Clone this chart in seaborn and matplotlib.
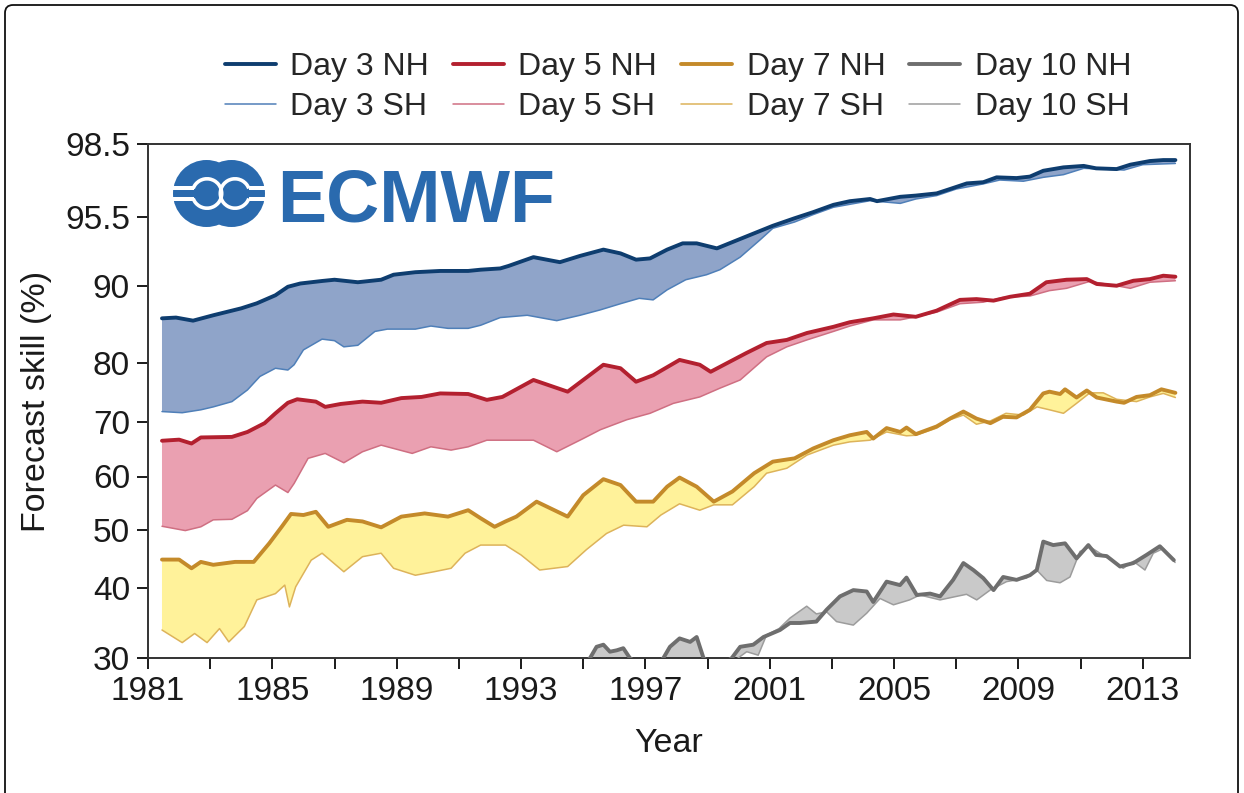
import numpy as np
import pandas as pd
import matplotlib
matplotlib.use("Agg")
import matplotlib.pyplot as plt
import seaborn as sns
from matplotlib.patches import Circle, Wedge, Rectangle, FancyBboxPatch
from matplotlib.transforms import IdentityTransform

# ---------------- data ----------------
d3nh_year = [1981.45, 1981.9, 1982.45, 1983.1, 1984.0, 1984.5, 1985.1, 1985.5, 1985.9, 1986.6, 1987.0,
             1987.75, 1988.5, 1988.9, 1989.6, 1990.4, 1991.3, 1991.7, 1992.33, 1992.6, 1993.4, 1994.25,
             1994.9, 1995.65, 1996.2, 1996.7, 1997.15, 1997.7, 1998.2, 1998.65, 1999.3, 1999.8, 2000.5,
             2001.1, 2001.8, 2002.4, 2003.05, 2003.58, 2004.23, 2004.45, 2005.2, 2005.7, 2006.37, 2006.8,
             2007.34, 2007.87, 2008.3, 2008.94, 2009.37, 2009.8, 2010.45, 2011.1, 2011.5, 2012.16, 2012.6,
             2013.23, 2013.66, 2014.05]
d3nh_val = [85.8, 85.9, 85.5, 86.2, 87.1, 87.75, 88.8, 89.9, 90.2, 90.4, 90.5,
            90.3, 90.5, 90.9, 91.1, 91.2, 91.2, 91.3, 91.4, 91.6, 92.3, 91.9,
            92.4, 92.9, 92.6, 92.1, 92.2, 92.9, 93.4, 93.4, 93.0, 93.5, 94.2,
            94.8, 95.4, 95.7, 96.0, 96.15, 96.24, 96.15, 96.33, 96.38, 96.47, 96.65,
            96.88, 96.93, 97.13, 97.1, 97.16, 97.4, 97.54, 97.6, 97.5, 97.47, 97.65,
            97.8, 97.84, 97.84]

d3sh_year = [1981.45, 1982.1, 1982.7, 1983.1, 1983.7, 1984.2, 1984.6, 1985.1, 1985.5, 1985.7, 1986.0,
             1986.6, 1987.0, 1987.3, 1987.75, 1988.3, 1988.7, 1989.6, 1990.1, 1990.65, 1991.3, 1991.7,
             1992.33, 1993.2, 1994.15, 1994.9, 1995.55, 1996.2, 1996.8, 1997.25, 1997.7, 1998.3, 1998.97,
             1999.4, 2000.05, 2000.7, 2001.1, 2001.8, 2002.4, 2003.05, 2003.7, 2004.23, 2005.2, 2005.7,
             2006.37, 2007.0, 2007.87, 2008.4, 2009.16, 2009.8, 2010.45, 2011.1, 2011.73, 2012.4, 2013.0,
             2014.05]
d3sh_val = [71.7, 71.5, 72.0, 72.5, 73.4, 75.4, 77.7, 79.1, 78.8, 79.7, 81.7,
            83.1, 82.9, 82.1, 82.3, 84.1, 84.4, 84.4, 84.8, 84.5, 84.5, 84.9,
            85.9, 86.2, 85.5, 86.2, 86.9, 87.7, 88.4, 88.2, 89.5, 90.5, 90.9,
            91.3, 92.3, 93.7, 94.6, 95.1, 95.6, 95.9, 96.05, 96.17, 96.06, 96.24,
            96.38, 96.65, 96.86, 97.02, 96.97, 97.13, 97.24, 97.5, 97.47, 97.43, 97.65,
            97.7]

d5nh_year = [1981.45, 1982.0, 1982.4, 1982.7, 1983.7, 1984.2, 1984.75, 1985.1, 1985.5, 1985.8, 1986.4,
             1986.7, 1987.2, 1987.9, 1988.5, 1989.15, 1989.8, 1990.4, 1991.3, 1991.9, 1992.4, 1993.4,
             1994.5, 1995.0, 1995.65, 1996.2, 1996.7, 1997.25, 1998.1, 1998.75, 1999.1, 1999.6, 2000.25,
             2000.9, 2001.55, 2002.2, 2003.05, 2003.58, 2004.33, 2004.98, 2005.7, 2006.37, 2007.12, 2007.65,
             2008.2, 2008.73, 2009.37, 2009.9, 2010.55, 2011.2, 2011.52, 2012.16, 2012.7, 2013.23, 2013.66,
             2014.05]
d5nh_val = [66.5, 66.7, 66.0, 67.1, 67.2, 68.1, 69.7, 71.4, 73.2, 73.8, 73.4,
            72.5, 73.0, 73.4, 73.2, 74.0, 74.2, 74.8, 74.7, 73.7, 74.2, 77.1,
            75.1, 77.1, 79.7, 79.1, 76.8, 77.9, 80.4, 79.7, 78.5, 79.9, 81.3,
            82.6, 83.0, 83.9, 84.7, 85.3, 85.8, 86.3, 86.0, 86.8, 88.2, 88.3,
            88.1, 88.6, 89.0, 90.3, 90.5, 90.55, 90.16, 90.02, 90.42, 90.55, 90.82,
            90.74]

d5sh_year = [1981.45, 1982.2, 1982.7, 1983.1, 1983.7, 1984.2, 1984.5, 1985.1, 1985.5, 1985.7, 1986.15,
             1986.7, 1987.3, 1987.9, 1988.5, 1989.5, 1990.1, 1990.75, 1991.3, 1991.9, 1992.5, 1993.4,
             1994.15, 1995.0, 1995.55, 1996.4, 1997.15, 1997.9, 1998.75, 1999.4, 2000.05, 2000.9, 2001.55,
             2002.2, 2003.05, 2003.58, 2004.33, 2005.2, 2005.7, 2006.37, 2007.12, 2007.87, 2008.5, 2009.37,
             2010.0, 2010.55, 2011.3, 2012.16, 2012.6, 2013.23, 2014.05]
d5sh_val = [50.7, 49.9, 50.6, 51.9, 52.0, 53.6, 55.9, 58.4, 57.0, 58.7, 63.3,
            64.2, 62.5, 64.5, 65.7, 64.2, 65.4, 64.8, 65.4, 66.6, 66.6, 66.6,
            64.5, 66.9, 68.5, 70.3, 71.4, 73.1, 74.2, 75.7, 77.1, 80.8, 82.1,
            83.0, 84.1, 84.8, 85.6, 85.6, 86.0, 86.6, 87.7, 87.9, 88.5, 88.7,
            89.4, 89.7, 90.37, 90.02, 89.7, 90.3, 90.42]

d7nh_year = [1981.45, 1982.0, 1982.4, 1982.7, 1983.1, 1983.8, 1984.4, 1984.9, 1985.3, 1985.6, 1986.0,
             1986.4, 1986.8, 1987.4, 1987.9, 1988.5, 1989.15, 1989.9, 1990.65, 1991.3, 1991.7, 1992.15,
             1992.5, 1992.85, 1993.5, 1994.5, 1995.0, 1995.65, 1996.2, 1996.7, 1997.25, 1997.7, 1998.1,
             1998.65, 1999.2, 1999.8, 2000.5, 2001.1, 2001.8, 2002.4, 2003.05, 2003.58, 2004.12, 2004.33,
             2004.76, 2005.2, 2005.4, 2005.7, 2006.37, 2006.8, 2007.23, 2007.65, 2008.1, 2008.5, 2008.94,
             2009.37, 2009.8, 2010.0, 2010.34, 2010.5, 2010.87, 2011.2, 2011.52, 2012.16, 2012.4, 2012.8,
             2013.23, 2013.6, 2014.05]
d7nh_val = [44.9, 44.9, 43.4, 44.5, 44.0, 44.5, 44.5, 47.7, 50.6, 53.0, 52.8,
            53.4, 50.6, 51.9, 51.6, 50.5, 52.5, 53.1, 52.5, 53.7, 52.2, 50.6,
            51.6, 52.5, 55.3, 52.5, 56.5, 59.5, 58.4, 55.3, 55.3, 58.1, 59.8,
            58.1, 55.3, 57.2, 60.6, 62.7, 63.3, 65.1, 66.6, 67.5, 68.1, 66.9,
            68.8, 68.1, 68.9, 67.7, 69.1, 70.5, 71.7, 70.5, 69.7, 70.8, 70.7,
            72.0, 74.8, 75.1, 74.7, 75.5, 74.1, 75.3, 74.1, 73.4, 73.2, 74.2,
            74.5, 75.5, 74.9]

d7sh_year = [1981.45, 1982.1, 1982.5, 1982.9, 1983.3, 1983.6, 1984.1, 1984.5, 1985.1, 1985.4, 1985.55,
             1985.75, 1986.25, 1986.6, 1987.3, 1987.9, 1988.5, 1988.9, 1989.6, 1990.2, 1990.75, 1991.2,
             1991.7, 1992.5, 1993.0, 1993.6, 1994.5, 1995.1, 1995.75, 1996.3, 1997.05, 1997.5, 1998.1,
             1998.75, 1999.2, 1999.8, 2000.5, 2000.9, 2001.55, 2002.2, 2003.05, 2003.58, 2004.23, 2004.76,
             2005.4, 2005.7, 2006.37, 2006.8, 2007.23, 2007.65, 2008.1, 2008.6, 2009.16, 2009.6, 2010.0,
             2010.45, 2010.87, 2011.3, 2011.73, 2012.16, 2012.8, 2013.23, 2013.66, 2014.05]
d7sh_val = [34.0, 32.2, 33.5, 32.2, 34.2, 32.3, 34.5, 38.3, 39.2, 40.5, 37.3,
            40.2, 44.8, 46.0, 42.8, 45.4, 46.0, 43.4, 42.2, 42.8, 43.4, 46.0,
            47.4, 47.4, 45.7, 43.1, 43.7, 46.6, 49.4, 50.9, 50.6, 52.8, 54.9,
            53.7, 54.7, 54.7, 58.1, 60.6, 61.5, 63.9, 65.7, 66.3, 66.6, 68.1,
            67.4, 67.5, 68.8, 70.3, 71.1, 69.5, 70.1, 71.4, 71.1, 72.5, 72.0,
            71.4, 73.1, 74.9, 74.9, 73.8, 73.4, 74.2, 74.8, 74.1]

d10nh_year = [1994.8, 1995.22, 1995.43, 1995.65, 1995.86, 1996.08, 1996.29, 1996.5, 1996.9, 1997.3,
              1997.58, 1997.79, 1998.1, 1998.44, 1998.65, 1998.87, 1999.3, 1999.78, 2000.05, 2000.47,
              2000.8, 2001.33, 2001.65, 2001.97, 2002.5, 2002.83, 2003.26, 2003.69, 2004.12, 2004.33,
              2004.76, 2005.19, 2005.4, 2005.73, 2006.16, 2006.48, 2006.9, 2007.23, 2007.55, 2007.87,
              2008.2, 2008.51, 2008.94, 2009.37, 2009.59, 2009.8, 2010.12, 2010.5, 2010.87, 2011.25,
              2011.5, 2011.84, 2012.27, 2012.7, 2013.12, 2013.55, 2014.0]
d10nh_val = [28.0, 30.0, 31.6, 31.9, 30.9, 31.1, 31.4, 30.0, 28.8, 28.5,
             30.0, 31.6, 32.8, 32.3, 33.0, 30.0, 28.5, 30.0, 31.6, 31.9,
             33.0, 34.0, 35.0, 35.0, 35.2, 36.9, 38.8, 39.7, 39.5, 38.0,
             41.1, 40.5, 41.8, 39.0, 39.2, 38.8, 41.4, 44.3, 43.1, 41.7,
             39.7, 41.9, 41.4, 42.2, 43.1, 48.0, 47.4, 47.7, 45.1, 47.4,
             45.7, 45.5, 43.7, 44.3, 45.7, 47.2, 44.8]

d10sh_year = [1994.8, 1996.0, 1997.0, 1998.3, 1999.0, 1999.83, 2000.26, 2000.63, 2000.9, 2001.3,
              2001.65, 2002.19, 2002.5, 2002.83, 2003.15, 2003.69, 2004.12, 2004.55, 2004.98, 2005.5,
              2005.83, 2006.48, 2006.9, 2007.33, 2007.66, 2008.09, 2008.62, 2009.26, 2009.59, 2009.91,
              2010.34, 2010.66, 2010.98, 2011.3, 2011.62, 2012.05, 2012.37, 2012.7, 2013.07, 2013.34,
              2013.66, 2014.04]
d10sh_val = [27.0, 28.0, 27.5, 29.0, 27.5, 29.5, 30.9, 30.4, 33.3, 34.2,
             35.7, 37.4, 36.3, 36.6, 35.2, 34.7, 36.4, 38.5, 37.6, 38.3,
             39.0, 38.3, 38.7, 39.1, 38.3, 39.7, 41.1, 41.7, 43.1, 41.3,
             40.9, 41.9, 46.3, 47.1, 46.0, 44.6, 43.4, 44.6, 43.1, 46.0,
             46.8, 44.4]

y_ticks = [30, 40, 50, 60, 70, 80, 90, 95.5, 98.5]
y_tick_labels = ["30", "40", "50", "60", "70", "80", "90", "95.5", "98.5"]
x_ticks = list(range(1981, 2015, 2))

# ---------------- styling ----------------
W, H = 1244, 793
sns.set_style("ticks")
plt.rcParams['font.family'] = ['Liberation Sans', 'DejaVu Sans']

fig = plt.figure(figsize=(W / 100, H / 100), dpi=100)
ax = fig.add_axes([148 / W, 1 - 658 / H, (1190 - 148) / W, (658 - 144) / H])

# non-linear skill axis (piecewise through the labelled ticks)
tick_pix = [0, 70, 128, 181.5, 236.5, 295, 372, 441, 514]
V = [-70] + y_ticks + [200]
P = [-700] + tick_pix + [514 + 101.5 * 24]
ax.set_yscale('function', functions=(lambda v: np.interp(v, V, P),
                                     lambda p: np.interp(p, P, V)))

groups = [
    ("Day 3", d3nh_year, d3nh_val, d3sh_year, d3sh_val, "#0e3d6f", "#4f7fb8", "#8fa4c9"),
    ("Day 5", d5nh_year, d5nh_val, d5sh_year, d5sh_val, "#b3202f", "#cf6f82", "#eaa0b1"),
    ("Day 7", d7nh_year, d7nh_val, d7sh_year, d7sh_val, "#c48a2a", "#ddb35a", "#fff29a"),
    ("Day 10", d10nh_year, d10nh_val, d10sh_year, d10sh_val, "#6e6e6e", "#9c9c9c", "#c9c9c9"),
]

for name, xn, yn, xs, ys, cn, cs, cf in groups:
    xn, yn, xs, ys = map(np.asarray, (xn, yn, xs, ys))
    ax.fill(np.r_[xn, xs[::-1]], np.r_[yn, ys[::-1]], color=cf, lw=0, zorder=1)

for name, xn, yn, xs, ys, cn, cs, cf in groups:
    df_s = pd.DataFrame({"year": xs, "skill": ys})
    df_n = pd.DataFrame({"year": xn, "skill": yn})
    sns.lineplot(data=df_s, x="year", y="skill", ax=ax, color=cs, lw=1.1, zorder=3,
                 label=f"{name} SH")
    sns.lineplot(data=df_n, x="year", y="skill", ax=ax, color=cn, lw=2.8, zorder=4,
                 label=f"{name} NH")

lines = {l.get_label(): l for l in ax.get_lines()}
order = []
for name, *_ in groups:
    order += [f"{name} NH", f"{name} SH"]
ax.legend([lines[k] for k in order], order, ncol=4, loc="center",
          bbox_to_anchor=(678 / W, 1 - 87 / H), bbox_transform=fig.transFigure,
          frameon=False, fontsize=23, handlelength=1.6, handletextpad=0.45,
          columnspacing=0.75, labelspacing=0.3, borderpad=0)

ax.set_xlim(1981, 2014.52)
ax.set_ylim(30, 98.5)
ax.set_xticks(x_ticks)
ax.set_xticklabels([str(y) if (y - 1981) % 4 == 0 else "" for y in x_ticks])
ax.set_yticks(y_ticks)
ax.set_yticklabels(y_tick_labels)
ax.minorticks_off()
ax.tick_params(axis="both", direction="out", length=8, width=1.4, labelsize=24,
               colors="#1a1a1a", pad=5)
ax.tick_params(top=False, right=False)
for s in ax.spines.values():
    s.set_visible(True)
    s.set_linewidth(1.4)
    s.set_color("#333333")

ax.set_xlabel("Year", fontsize=24.5, color="#1a1a1a")
ax.set_ylabel("Forecast skill (%)", fontsize=24.5, color="#1a1a1a")
ax.xaxis.set_label_coords(0.5, -0.137)
ax.yaxis.set_label_coords(-0.092, 0.5)

# ---------------- ECMWF logo ----------------
blue = "#2a6aae"
lax = fig.add_axes([168 / W, 1 - 232 / H, 102 / W, 76 / H])
lax.set_xlim(168, 270)
lax.set_ylim(232, 156)
lax.axis("off")
for cx in (206.5, 231.5):
    lax.add_patch(Circle((cx, 193.5), 33.5, color=blue, lw=0))
lax.add_patch(Wedge((207, 193.5), 16.5, 200, 160, width=3.6, color="white", lw=0))
lax.add_patch(Wedge((235, 193.5), 16.5, 20, 340, width=3.6, color="white", lw=0))
for yb in (188.0, 199.0):
    lax.add_patch(Rectangle((170, yb - 1.6), 24, 3.2, color="white", lw=0))
    lax.add_patch(Rectangle((249, yb - 1.6), 20, 3.2, color="white", lw=0))
fig.text(277 / W, 1 - 222 / H, "ECMWF", fontsize=53, fontweight="bold", color=blue,
         ha="left", va="baseline", family=["Liberation Sans", "DejaVu Sans"])

# figure frame
fig.add_artist(FancyBboxPatch((5, -20), W - 11, H - 5 + 20,
                              boxstyle="round,pad=0,rounding_size=8",
                              transform=IdentityTransform(), fill=False,
                              ec="#111111", lw=1.3))

fig.savefig("out.png", dpi=100)
